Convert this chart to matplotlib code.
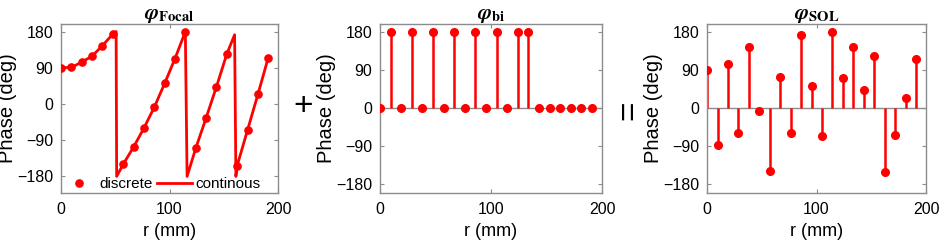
import numpy as np
from matplotlib import pyplot as plt

plt.rcParams['font.family'] = ['Liberation Sans', 'DejaVu Sans']
plt.rcParams['mathtext.fontset'] = 'stix'

# element positions (mm)
r = [0, 9.6, 19.1, 28.7, 38.2, 47.8, 57.3, 66.9, 76.4, 86.0, 95.5,
     105.1, 114.6, 124.2, 133.7, 143.3, 152.8, 162.4, 171.9, 181.5, 191.0]

# phases (deg)
phi_focal = [90, 91, 104, 119, 145, 174, -150, -107, -60, -8, 51,
             113, 180, -110, -35, 43, 124, -153, -65, 24, 115]
phi_bi = [0, 180, 0, 180, 0, 180, 0, 180, 0, 180, 0,
          180, 0, 180, 180, 0, 0, 0, 0, 0, 0]
phi_sol = [90, -87, 105, -60, 144, -6, -149, 73, -59, 172, 51,
           -67, 180, 70, 145, 43, 124, -152, -65, 24, 116]

# continuous curve (with wrap jumps)
cont_r = [0, 9.6, 19.1, 28.7, 38.2, 47.8, 50.8, 51.3, 57.3, 66.9, 76.4, 86.0, 95.5,
          105.1, 114.6, 116.2, 124.2, 133.7, 143.3, 152.8, 160.0, 161.2, 162.4,
          171.9, 181.5, 191.0]
cont_phi = [90, 91, 104, 119, 145, 174, 180, -180, -150, -107, -60, -8, 51,
            113, 180, -180, -110, -35, 43, 124, 172, -180, -153,
            -65, 24, 115]

red = '#ff0000'
frame = '#8c8c8c'

fig = plt.figure(figsize=(9.41, 2.42), dpi=100)
ax1 = fig.add_axes([61/941, 49.5/242, 217/941, 169/242])
ax2 = fig.add_axes([380/941, 49.5/242, 222/941, 169/242])
ax3 = fig.add_axes([707/941, 49.5/242, 219/941, 169/242])


def style(ax, ylo, title):
    ax.set_xlim(0, 200)
    ax.set_ylim(ylo, 200)
    ax.set_xticks([0, 100, 200])
    ax.set_yticks([-180, -90, 0, 90, 180])
    ax.tick_params(direction='in', length=3, width=0.8, color=frame,
                   labelsize=11.5, top=True, right=True)
    ax.tick_params(axis='x', pad=7)
    ax.tick_params(axis='y', pad=5.5)
    for s in ax.spines.values():
        s.set_color(frame)
        s.set_linewidth(1.0)
    ax.set_xlabel('r (mm)', fontsize=13, labelpad=4)
    ax.set_ylabel('Phase (deg)', fontsize=14.5, labelpad=0)
    ax.set_title(title, fontsize=15, fontweight='bold', pad=3)


# panel 1
ax1.plot(cont_r, cont_phi, color=red, lw=2.0, label='continous', zorder=2)
ax1.plot(r, phi_focal, 'o', color=red, ms=5.2, label='discrete', zorder=3)
style(ax1, -220, r'$\mathbfit{\varphi}_{\mathbf{Focal}}$')
h, l = ax1.get_legend_handles_labels()
ax1.legend([h[1], h[0]], [l[1], l[0]], loc='lower center', ncol=2, frameon=False,
           fontsize=11, handlelength=2.3, handletextpad=0.2, columnspacing=0.3,
           borderpad=0, borderaxespad=0.1, bbox_to_anchor=(0.46, 0.0))

# panel 2
ax2.axhline(0, color=frame, lw=1.0, zorder=1)
ax2.vlines(r, 0, phi_bi, color=red, lw=1.8, zorder=2)
ax2.plot(r, phi_bi, 'o', color=red, ms=5.5, zorder=3)
style(ax2, -200, r'$\mathbfit{\varphi}_{\mathbf{bi}}$')

# panel 3
ax3.axhline(0, color=frame, lw=1.0, zorder=1)
ax3.vlines(r, 0, phi_sol, color=red, lw=1.8, zorder=2)
ax3.plot(r, phi_sol, 'o', color=red, ms=5.5, zorder=3)
style(ax3, -200, r'$\mathbfit{\varphi}_{\mathbf{SOL}}$')

fig.text(303/941, 1 - 107/242, '+', fontsize=24, ha='center', va='center')
fig.text(630/941, 1 - 110/242, '=', fontsize=24, ha='center', va='center', rotation=90)

fig.savefig('out.png', dpi=100)
